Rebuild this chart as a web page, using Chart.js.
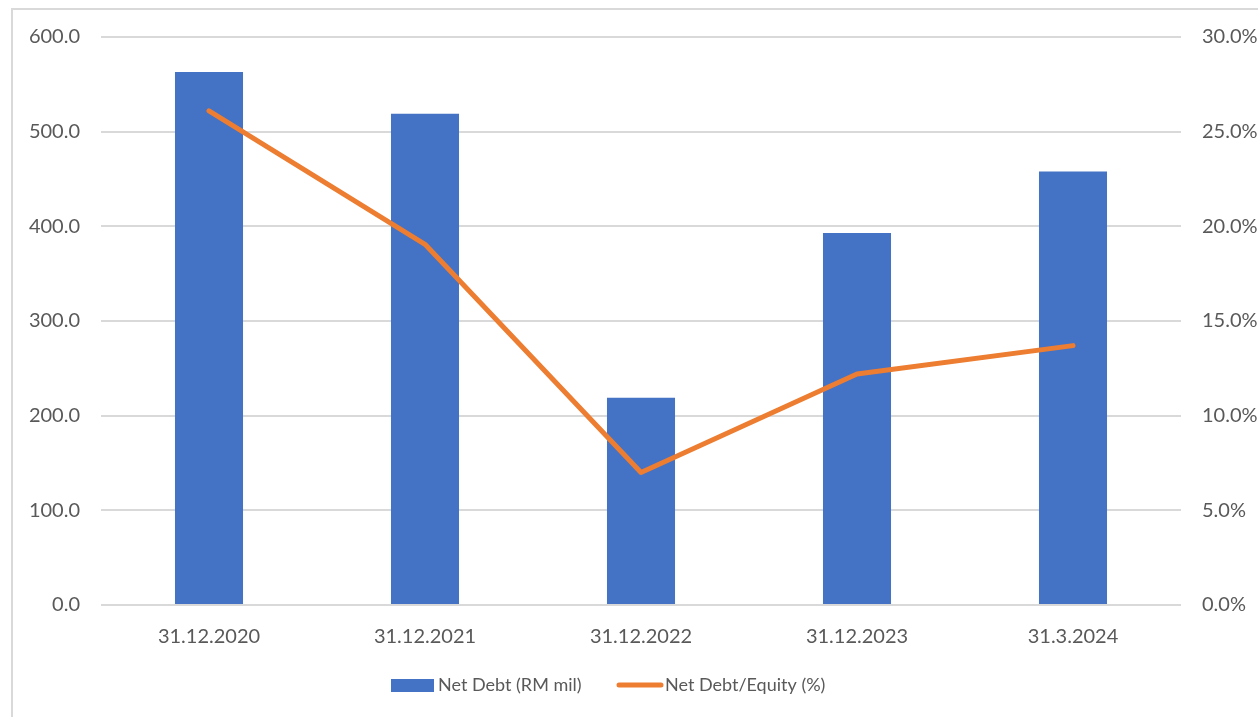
<!DOCTYPE html>
<html>
<head>
<meta charset="utf-8">
<script src="https://cdn.jsdelivr.net/npm/chart.js@4/dist/chart.umd.min.js"></script>
<style>
  html, body { margin: 0; padding: 0; background: #ffffff; overflow: hidden; }
  #wrap { position: relative; width: 1258px; height: 717px; }
  #frame { position: absolute; left: 11px; top: 8px; width: 1400px; height: 800px;
           border-top: 2px solid #d9d9d9; border-left: 2px solid #d9d9d9; box-sizing: border-box; }
  canvas { position: absolute; left: 0; top: 0; }
</style>
</head>
<body>
<div id="wrap">
  <div id="frame"></div>
  <canvas id="c" width="1258" height="717"></canvas>
</div>
<script>
const categories = ["31.12.2020", "31.12.2021", "31.12.2022", "31.12.2023", "31.3.2024"];
const netDebt = [563, 519, 219, 393, 458];
const netDebtEquity = [26.1, 19.05, 7.0, 12.2, 13.7];
const seriesNames = ["Net Debt (RM mil)", "Net Debt/Equity (%)"];
const leftTicks = [0, 100, 200, 300, 400, 500, 600];
const rightTicks = [0, 5, 10, 15, 20, 25, 30];

const FONT = "Lato, 'Open Sans', sans-serif";
const TEXT = "#595959";
const BLUE = "#4472C4";
const ORANGE = "#ED7D31";

const legendPlugin = {
  id: 'customLegend',
  afterDraw(chart) {
    const ctx = chart.ctx;
    ctx.save();
    ctx.font = "18px " + FONT;
    ctx.textBaseline = 'middle';
    ctx.textAlign = 'left';
    const cy = 685;
    // bar swatch
    ctx.fillStyle = BLUE;
    ctx.fillRect(391, 679, 43, 13);
    ctx.fillStyle = TEXT;
    ctx.fillText(seriesNames[0], 438, cy);
    // line swatch
    ctx.strokeStyle = ORANGE;
    ctx.lineWidth = 5;
    ctx.lineCap = 'round';
    ctx.beginPath();
    ctx.moveTo(619, cy);
    ctx.lineTo(661, cy);
    ctx.stroke();
    ctx.fillText(seriesNames[1], 665, cy);
    ctx.restore();
  }
};

new Chart(document.getElementById('c'), {
  data: {
    labels: categories,
    datasets: [
      {
        type: 'line',
        label: seriesNames[1],
        data: netDebtEquity,
        yAxisID: 'y1',
        borderColor: ORANGE,
        backgroundColor: ORANGE,
        borderWidth: 5,
        borderCapStyle: 'round',
        borderJoinStyle: 'round',
        pointRadius: 0,
        tension: 0,
        order: 0
      },
      {
        type: 'bar',
        label: seriesNames[0],
        data: netDebt,
        yAxisID: 'y',
        backgroundColor: BLUE,
        borderWidth: 0,
        categoryPercentage: 1.0,
        barPercentage: 0.315,
        order: 1
      }
    ]
  },
  options: {
    responsive: false,
    animation: false,
    devicePixelRatio: 1,
    layout: { padding: { top: 37, bottom: 0, left: 0, right: 0 } },
    plugins: {
      legend: { display: false },
      tooltip: { enabled: false }
    },
    scales: {
      x: {
        grid: { display: false, drawTicks: false },
        border: { display: false },
        ticks: { color: TEXT, font: { family: FONT, size: 20 }, padding: 20, maxRotation: 0 },
        afterFit(s) { s.height = 112; }
      },
      y: {
        position: 'left',
        min: 0, max: 600,
        afterBuildTicks(s) { s.ticks = leftTicks.map(v => ({ value: v })); },
        ticks: {
          color: TEXT, font: { family: FONT, size: 20 }, padding: 21,
          callback: v => Number(v).toFixed(1)
        },
        grid: { color: '#d9d9d9', lineWidth: 2, drawTicks: false },
        border: { display: false },
        afterFit(s) { s.width = 101; }
      },
      y1: {
        position: 'right',
        min: 0, max: 30,
        afterBuildTicks(s) { s.ticks = rightTicks.map(v => ({ value: v })); },
        ticks: {
          color: TEXT, font: { family: FONT, size: 20 }, padding: 21,
          callback: v => Number(v).toFixed(1) + '%'
        },
        grid: { display: false, drawTicks: false },
        border: { display: false },
        afterFit(s) { s.width = 77; }
      }
    }
  },
  plugins: [legendPlugin]
});
</script>
</body>
</html>
